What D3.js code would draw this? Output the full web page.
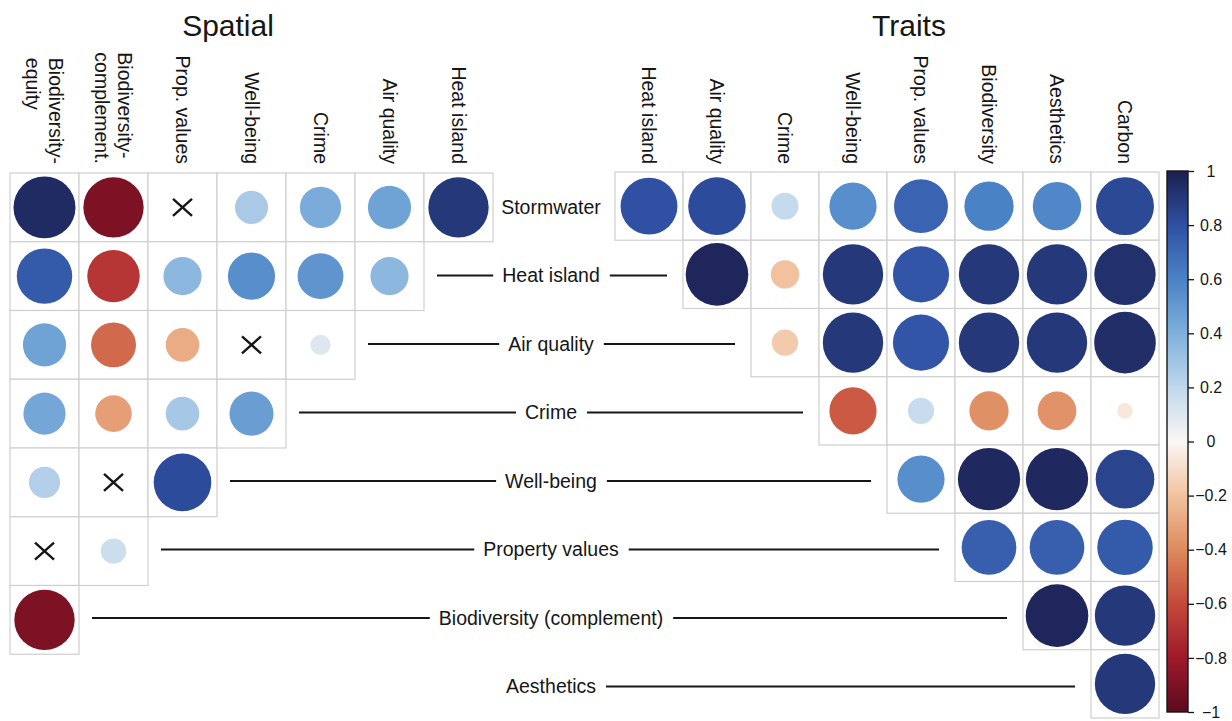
<!DOCTYPE html>
<html>
<head>
<meta charset="utf-8">
<script src="https://cdn.jsdelivr.net/npm/d3@7"></script>
<style>
  html, body { margin: 0; padding: 0; background: #fff; }
  svg { display: block; font-family: "Liberation Sans", Arial, sans-serif; }
</style>
</head>
<body>
<svg id="chart" width="1232" height="721"></svg>
<script>
// Ecosystem services shared by both panels (one row each)
const rowLabels = ["Stormwater", "Heat island", "Air quality", "Crime", "Well-being",
                   "Property values", "Biodiversity (complement)", "Aesthetics"];

// Column headers of the spatial panel (multi-line headers as arrays)
const spatialCols = [["Biodiversity-", "equity"], ["Biodiversity-", "complement."], ["Prop. values"],
                     ["Well-being"], ["Crime"], ["Air quality"], ["Heat island"]];

// Column headers of the traits panel
const traitCols = ["Heat island", "Air quality", "Crime", "Well-being", "Prop. values",
                   "Biodiversity", "Aesthetics", "Carbon"];

// Spatial correlations: row i fills the first (7 - i) columns; null = not significant (cross)
const spatialValues = [
  [0.95, -0.90, null, 0.27, 0.42, 0.46, 0.90],
  [0.76, -0.68, 0.36, 0.55, 0.52, 0.36],
  [0.46, -0.50, -0.28, null, 0.10],
  [0.44, -0.33, 0.28, 0.48],
  [0.24, null, 0.82],
  [null, 0.16],
  [-0.90],
  []
];

// Trait correlations: row i fills the last (8 - i) columns
const traitValues = [
  [0.80, 0.82, 0.18, 0.55, 0.72, 0.60, 0.58, 0.83],
  [0.97, -0.20, 0.90, 0.78, 0.90, 0.90, 0.93],
  [-0.17, 0.90, 0.78, 0.90, 0.90, 0.94],
  [-0.55, 0.17, -0.38, -0.37, -0.06],
  [0.55, 0.96, 0.96, 0.85],
  [0.74, 0.74, 0.76],
  [0.97, 0.90],
  [0.90]
];

const colorbarTicks = [1, 0.8, 0.6, 0.4, 0.2, 0, -0.2, -0.4, -0.6, -0.8, -1];

// Diverging red-white-blue palette
const colorDomain = [-1, -0.8, -0.6, -0.4, -0.2, 0, 0.2, 0.4, 0.6, 0.8, 1];
const colorRange = ["#5c0a1e", "#9e1a2b", "#c4493a", "#de8a5e", "#f2c29f", "#fbf7f4",
                    "#c0d7ec", "#7fb0dc", "#4a82c6", "#2f50a3", "#1b1f4f"];

const svg = d3.select("#chart");
const ink = "#161616";
const labelSize = 19.5;

const color = d3.scaleLinear().domain(colorDomain).range(colorRange).clamp(true);

const nRows = rowLabels.length;
const yL = d3.scaleBand().domain(d3.range(nRows)).range([173, 723]);
const yR = d3.scaleBand().domain(d3.range(nRows)).range([172, 718]);
const xL = d3.scaleBand().domain(d3.range(spatialCols.length)).range([10, 493]);
const xR = d3.scaleBand().domain(d3.range(traitCols.length)).range([615, 1159]);
const radius = d3.scaleSqrt().domain([0, 1]).range([0, 31.8]);

// Collect cells of both panels
const cells = [];
spatialValues.forEach((vals, i) => {
  vals.forEach((v, j) => {
    cells.push({ x: xL(j), y: yL(i), w: xL.bandwidth(), h: yL.bandwidth(), v });
  });
});
traitValues.forEach((vals, i) => {
  const first = traitCols.length - vals.length;
  vals.forEach((v, k) => {
    cells.push({ x: xR(first + k), y: yR(i), w: xR.bandwidth(), h: yR.bandwidth(), v });
  });
});

const cellG = svg.append("g").selectAll("g").data(cells).join("g")
  .attr("transform", d => `translate(${d.x},${d.y})`);

cellG.append("rect")
  .attr("width", d => d.w).attr("height", d => d.h)
  .attr("fill", "#fff").attr("stroke", "#cfcfcf").attr("stroke-width", 1.2);

cellG.filter(d => d.v !== null).append("circle")
  .attr("cx", d => d.w / 2).attr("cy", d => d.h / 2)
  .attr("r", d => radius(Math.abs(d.v)))
  .attr("fill", d => color(d.v));

const cross = cellG.filter(d => d.v === null);
[[-1, -1, 1, 1], [-1, 1, 1, -1]].forEach(([a, b, c, e]) => {
  cross.append("line")
    .attr("x1", d => d.w / 2 + a * 9.5).attr("y1", d => d.h / 2 + b * 8.5)
    .attr("x2", d => d.w / 2 + c * 9.5).attr("y2", d => d.h / 2 + e * 8.5)
    .attr("stroke", ink).attr("stroke-width", 2.4);
});

// Rotated column headers, ending just above the grid
function columnHeaders(lines, cx) {
  const g = svg.append("g").attr("transform", `translate(${cx},164) rotate(90)`);
  const lh = labelSize * 1.15;
  const n = lines.length;
  const texts = lines.map((t, k) => g.append("text")
    .attr("y", (k - (n - 1) / 2) * lh)
    .attr("dy", "0.35em")
    .attr("font-size", labelSize)
    .attr("fill", ink)
    .text(t));
  const maxLen = d3.max(texts, t => t.node().getComputedTextLength());
  texts.forEach(t => t.attr("x", -maxLen).attr("text-anchor", "start"));
}
spatialCols.forEach((lines, j) => columnHeaders(lines, xL(j) + xL.bandwidth() / 2));
traitCols.forEach((name, j) => columnHeaders([name], xR(j) + xR.bandwidth() / 2));

// Panel titles
svg.append("text").attr("x", 228).attr("y", 36).attr("text-anchor", "middle")
  .attr("font-size", 30).attr("fill", ink).text("Spatial");
svg.append("text").attr("x", 909).attr("y", 36).attr("text-anchor", "middle")
  .attr("font-size", 30).attr("fill", ink).text("Traits");

// Row labels in the gap, joined to each panel by a rule
const labelX = 551;
rowLabels.forEach((name, i) => {
  const cy = (yL(i) + yR(i)) / 2 + yL.bandwidth() / 2;
  const t = svg.append("text").attr("x", labelX).attr("y", cy).attr("dy", "0.35em")
    .attr("text-anchor", "middle").attr("font-size", labelSize).attr("fill", ink).text(name);
  const half = t.node().getComputedTextLength() / 2;

  const nLeft = spatialValues[i].length;
  if (nLeft > 0) {
    const x1 = xL(nLeft - 1) + xL.bandwidth() + 13;
    const x2 = labelX - half - 9;
    if (x2 - x1 > 5) {
      svg.append("line").attr("x1", x1).attr("x2", x2).attr("y1", cy).attr("y2", cy)
        .attr("stroke", ink).attr("stroke-width", 2);
    }
  }
  const firstRight = traitCols.length - traitValues[i].length;
  if (firstRight > 0) {
    const x1 = labelX + half + 10;
    const x2 = xR(firstRight) - 16;
    if (x2 - x1 > 5) {
      svg.append("line").attr("x1", x1).attr("x2", x2).attr("y1", cy).attr("y2", cy)
        .attr("stroke", ink).attr("stroke-width", 2);
    }
  }
});

// Colour bar
const cb = d3.scaleLinear().domain([-1, 1]).range([712, 171]);
const grad = svg.append("defs").append("linearGradient").attr("id", "cbGrad")
  .attr("x1", 0).attr("y1", 1).attr("x2", 0).attr("y2", 0);
d3.range(0, 1.0001, 0.02).forEach(f => {
  grad.append("stop").attr("offset", f).attr("stop-color", color(f * 2 - 1));
});
svg.append("rect").attr("x", 1167).attr("y", cb(1)).attr("width", 21)
  .attr("height", cb(-1) - cb(1)).attr("fill", "url(#cbGrad)")
  .attr("stroke", ink).attr("stroke-width", 1.4);

const axis = svg.append("g").attr("transform", "translate(1188,0)")
  .call(d3.axisRight(cb).tickValues(colorbarTicks).tickSize(6).tickFormat(d3.format("~g")));
axis.select(".domain").remove();
axis.selectAll(".tick line").attr("stroke", ink).attr("stroke-width", 1.3);
axis.selectAll(".tick text").attr("x", 23).attr("text-anchor", "middle")
  .attr("font-size", 16).attr("font-family", "Liberation Sans, Arial, sans-serif").attr("fill", ink);
</script>
</body>
</html>
